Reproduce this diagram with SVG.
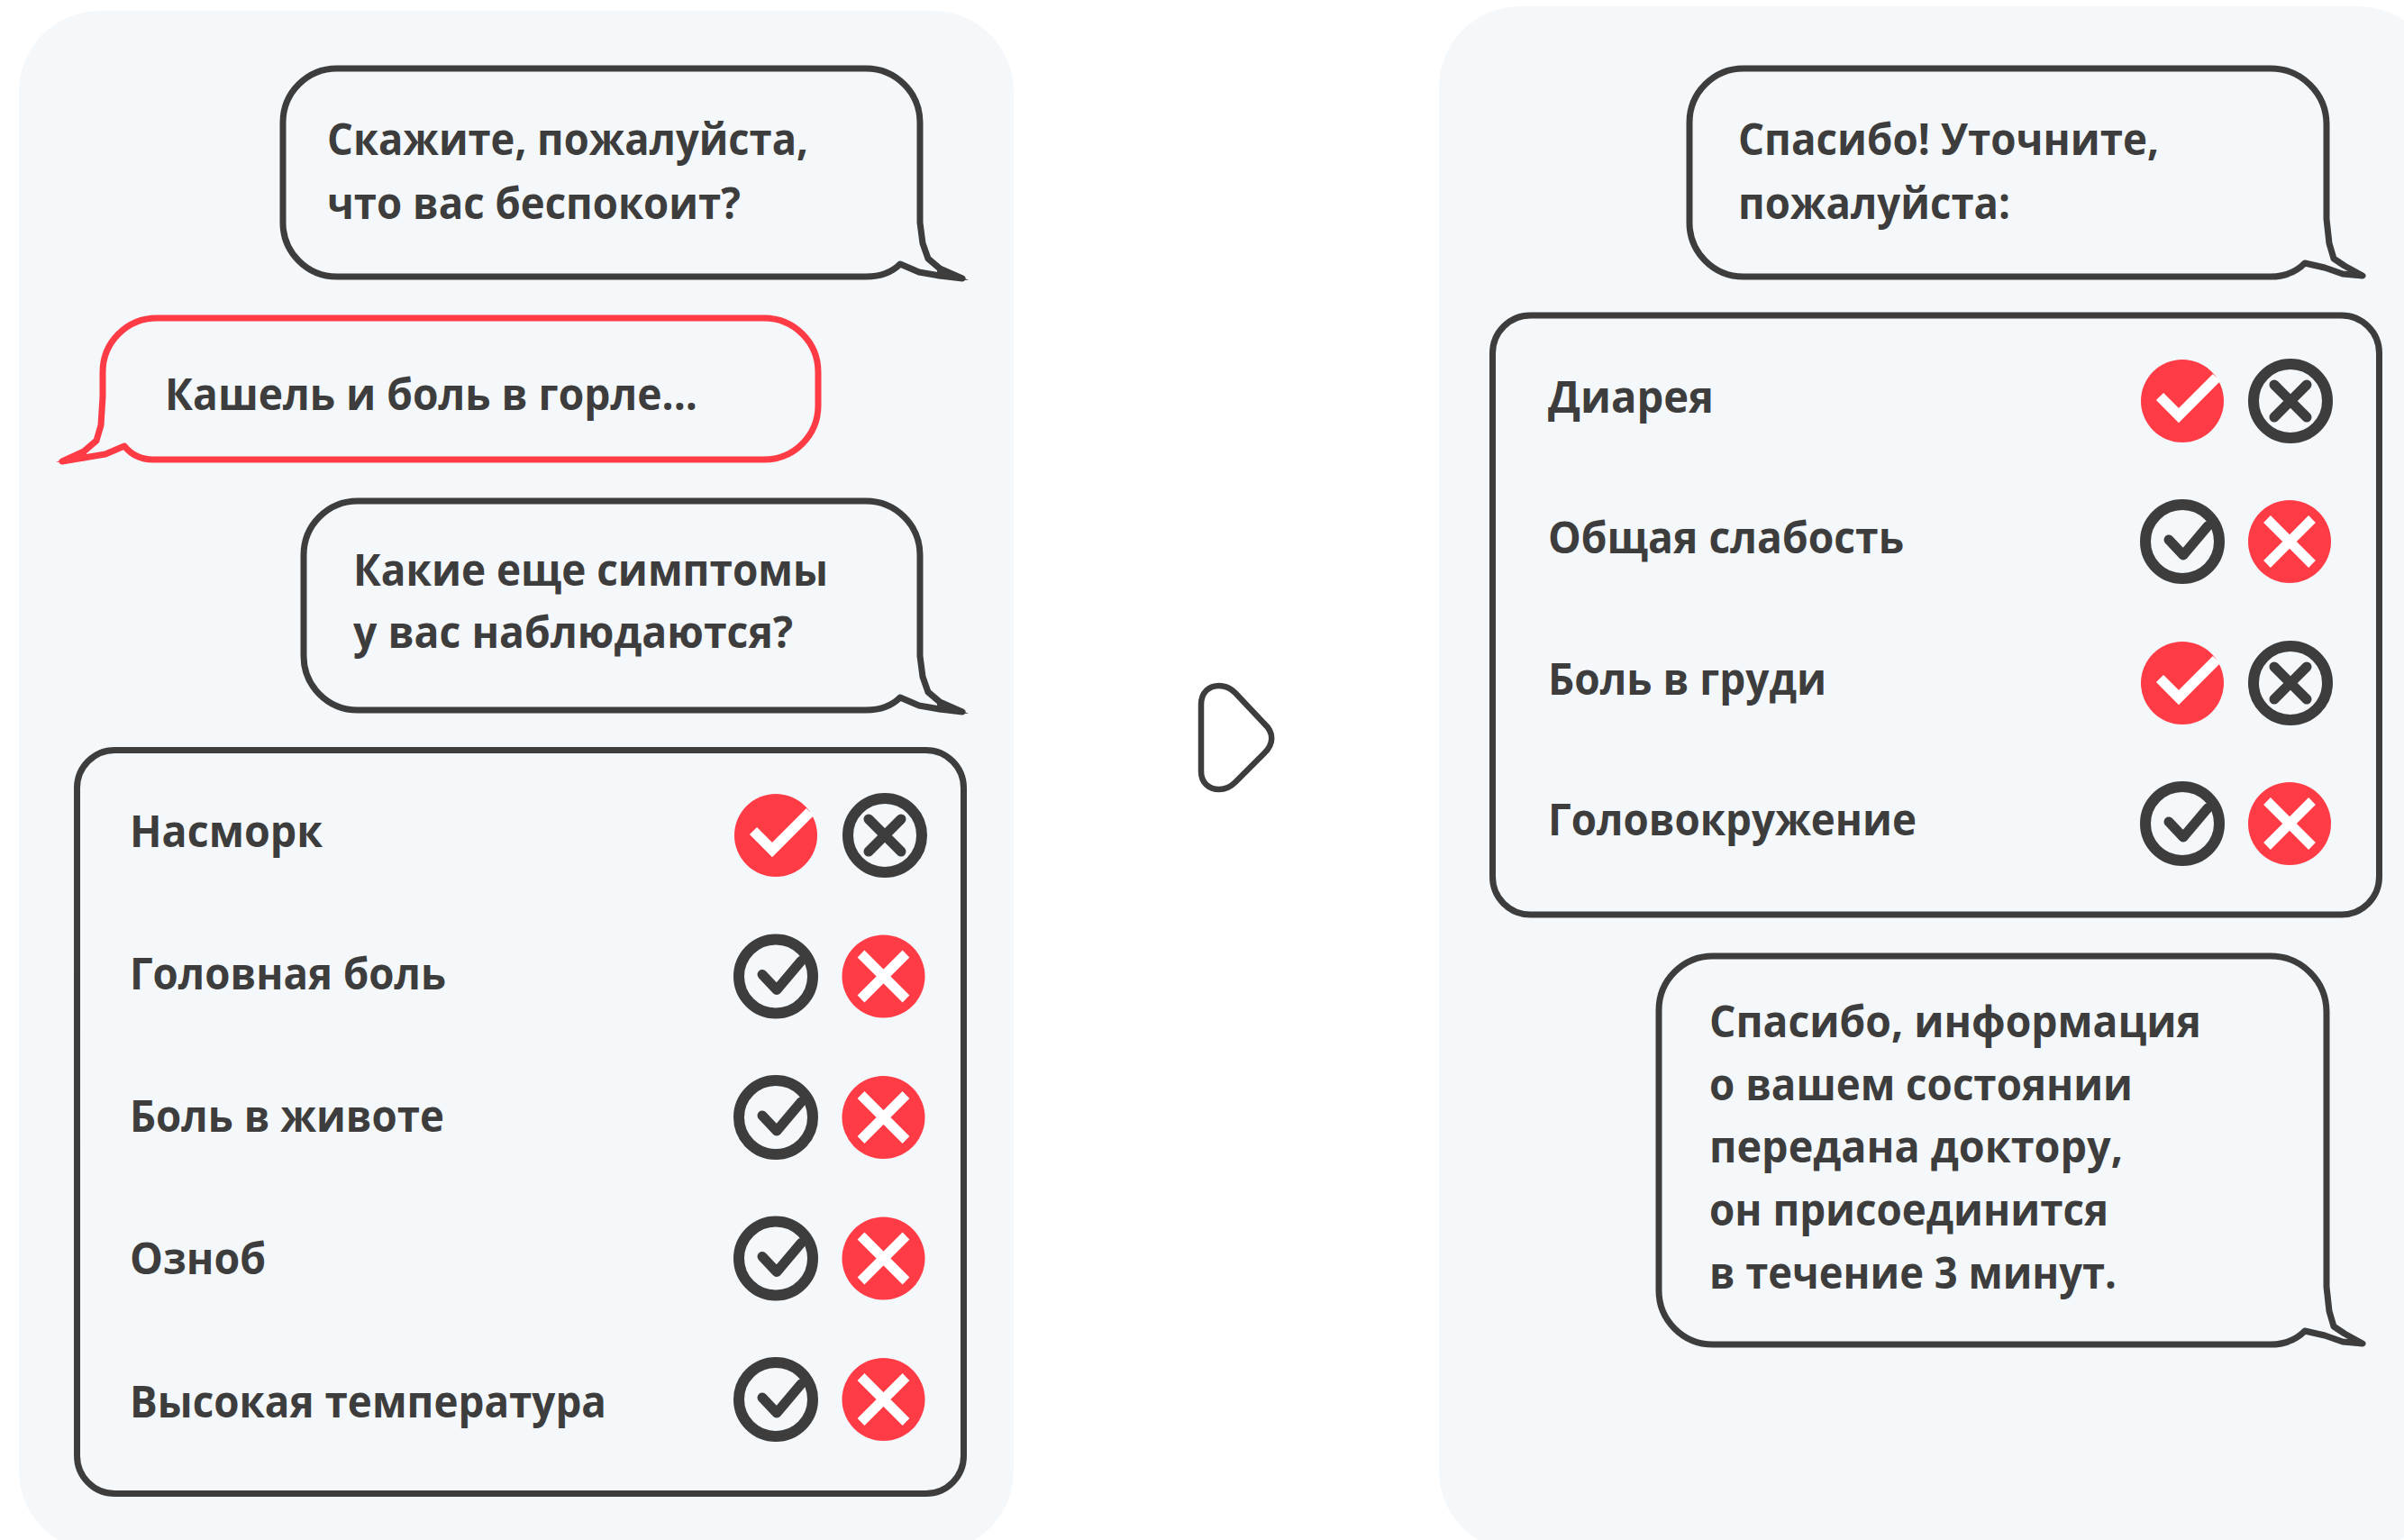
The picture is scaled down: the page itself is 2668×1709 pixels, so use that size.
<svg xmlns="http://www.w3.org/2000/svg" width="2668" height="1709" viewBox="0 0 2668 1709">
<style>
.t{font-family:"Open Sans","Noto Sans",sans-serif;font-weight:700;font-size:48px;fill:#3d3d3d}
.o{fill:none;stroke:#3d3d3d;stroke-width:7;stroke-linejoin:round}
.r{stroke:#ff3c46}
.p{fill:#f4f8fb}
.k{fill:#3d3d3d}
.f{fill:#ff3c46}
</style>
<defs>
<g id="yesOn"><circle r="46" fill="#ff3c46"/><polyline points="-25,-5 -4,16 38,-26" fill="none" stroke="#fff" stroke-width="11.500"/></g>
<g id="noOff"><circle r="41" fill="none" stroke="#3d3d3d" stroke-width="12"/><path d="M-18,-18L18,18M18,-18L-18,18" stroke="#3d3d3d" stroke-width="11" stroke-linecap="round"/></g>
<g id="yesOff"><circle r="41" fill="none" stroke="#3d3d3d" stroke-width="12"/><polyline points="-15,-2 1,15 28,-17" fill="none" stroke="#3d3d3d" stroke-width="11" stroke-linecap="round" stroke-linejoin="round"/></g>
<g id="noOn"><circle r="46" fill="#ff3c46"/><path d="M-25,-25L25,25M25,-25L-25,25" stroke="#fff" stroke-width="11"/></g>
</defs>
<rect id="panel-left" class="p" x="21" y="12" width="1104" height="1710" rx="90"/>
<rect id="panel-right" class="p" x="1597" y="7" width="1110" height="1715" rx="90"/>
<g id="bubble-1">
<path class="o" d="M374,76H961A60,60 0 0 1 1021,136V247L1024,270L1030,287L1043,298L1068,309L1043,306L1020,302L999,293Q985,307 961,307H374A60,60 0 0 1 314,247V136A60,60 0 0 1 374,76Z"/>
<polygon class="k" points="1040,295 1075,311 1040,309"/>
<text class="t" x="363" y="172" textLength="534" lengthAdjust="spacingAndGlyphs">Скажите, пожалуйста,</text>
<text class="t" x="363" y="243" textLength="459" lengthAdjust="spacingAndGlyphs">что вас беспокоит?</text>
</g>
<g id="bubble-2">
<path class="o r" d="M174,353H848A60,60 0 0 1 908,413V450A60,60 0 0 1 848,510H170Q150,510 138,495L117,504L93,508L69,512L93,501L107,489L112,472L114,440V413A60,60 0 0 1 174,353Z"/>
<polygon class="f" points="96,498 62,513 96,511"/>
<text class="t" x="183" y="455" textLength="591" lengthAdjust="spacingAndGlyphs">Кашель и боль в горле...</text>
</g>
<g id="bubble-3">
<path class="o" d="M397,556H961A60,60 0 0 1 1021,616V728L1024,751L1030,768L1043,779L1068,790L1043,787L1020,783L999,774Q985,788 961,788H397A60,60 0 0 1 337,728V616A60,60 0 0 1 397,556Z"/>
<polygon class="k" points="1040,776 1075,792 1040,790"/>
<text class="t" x="392" y="650" textLength="527" lengthAdjust="spacingAndGlyphs">Какие еще симптомы</text>
<text class="t" x="392" y="719" textLength="488" lengthAdjust="spacingAndGlyphs">у вас наблюдаются?</text>
</g>
<g id="list-1">
<rect class="o" x="85.500" y="832.500" width="984" height="825" rx="42"/>
<text class="t" x="144" y="940" textLength="214" lengthAdjust="spacingAndGlyphs">Насморк</text>
<text class="t" x="144" y="1098" textLength="351" lengthAdjust="spacingAndGlyphs">Головная боль</text>
<text class="t" x="144" y="1256" textLength="349" lengthAdjust="spacingAndGlyphs">Боль в животе</text>
<text class="t" x="144" y="1414" textLength="151" lengthAdjust="spacingAndGlyphs">Озноб</text>
<text class="t" x="144" y="1573" textLength="529" lengthAdjust="spacingAndGlyphs">Высокая температура</text>
<use href="#yesOn" x="861" y="927"/><use href="#noOff" x="982" y="927"/>
<use href="#yesOff" x="861" y="1083.500"/><use href="#noOn" x="980.500" y="1083.500"/>
<use href="#yesOff" x="861" y="1240"/><use href="#noOn" x="980.500" y="1240"/>
<use href="#yesOff" x="861" y="1396.500"/><use href="#noOn" x="980.500" y="1396.500"/>
<use href="#yesOff" x="861" y="1553"/><use href="#noOn" x="980.500" y="1553"/>
</g>
<g id="arrow">
<path d="M1333,782C1333,768 1342,761 1353,761C1361,761 1366,764 1371,769L1403,803C1414,813 1414,825 1403,836L1371,868C1366,873 1361,876 1353,876C1342,876 1333,869 1333,856Z" fill="none" stroke="#3d3d3d" stroke-width="6.500"/>
</g>
<g id="bubble-4">
<path class="o" d="M1935,76H2520A62,62 0 0 1 2582,138V243L2585,270L2590,287L2602,295L2622,306L2600,304L2580,297L2558,292Q2543,307 2520,307H1935A60,60 0 0 1 1875,247V136A60,60 0 0 1 1935,76Z"/>
<text class="t" x="1929" y="172" textLength="467" lengthAdjust="spacingAndGlyphs">Спасибо! Уточните,</text>
<text class="t" x="1929" y="243" textLength="302" lengthAdjust="spacingAndGlyphs">пожалуйста:</text>
</g>
<g id="list-2">
<rect class="o" x="1656.500" y="350" width="984" height="665" rx="42"/>
<text class="t" x="1718" y="458" textLength="184" lengthAdjust="spacingAndGlyphs">Диарея</text>
<text class="t" x="1718" y="614" textLength="395" lengthAdjust="spacingAndGlyphs">Общая слабость</text>
<text class="t" x="1718" y="771" textLength="309" lengthAdjust="spacingAndGlyphs">Боль в груди</text>
<text class="t" x="1718" y="927" textLength="409" lengthAdjust="spacingAndGlyphs">Головокружение</text>
<use href="#yesOn" x="2422" y="445"/><use href="#noOff" x="2542" y="445"/>
<use href="#yesOff" x="2422" y="601"/><use href="#noOn" x="2541" y="601"/>
<use href="#yesOn" x="2422" y="758"/><use href="#noOff" x="2542" y="758"/>
<use href="#yesOff" x="2422" y="914"/><use href="#noOn" x="2541" y="914"/>
</g>
<g id="bubble-5">
<path class="o" d="M1901,1061H2520A62,62 0 0 1 2582,1123V1428L2585,1455L2590,1472L2602,1480L2622,1491L2600,1489L2580,1482L2558,1477Q2543,1492 2520,1492H1901A60,60 0 0 1 1841,1432V1121A60,60 0 0 1 1901,1061Z"/>
<text class="t" x="1897" y="1151" textLength="546" lengthAdjust="spacingAndGlyphs">Спасибо, информация</text>
<text class="t" x="1897" y="1221" textLength="470" lengthAdjust="spacingAndGlyphs">о вашем состоянии</text>
<text class="t" x="1897" y="1290" textLength="459" lengthAdjust="spacingAndGlyphs">передана доктору,</text>
<text class="t" x="1897" y="1360" textLength="443" lengthAdjust="spacingAndGlyphs">он присоединится</text>
<text class="t" x="1897" y="1430" textLength="452" lengthAdjust="spacingAndGlyphs">в течение 3 минут.</text>
</g>
</svg>
